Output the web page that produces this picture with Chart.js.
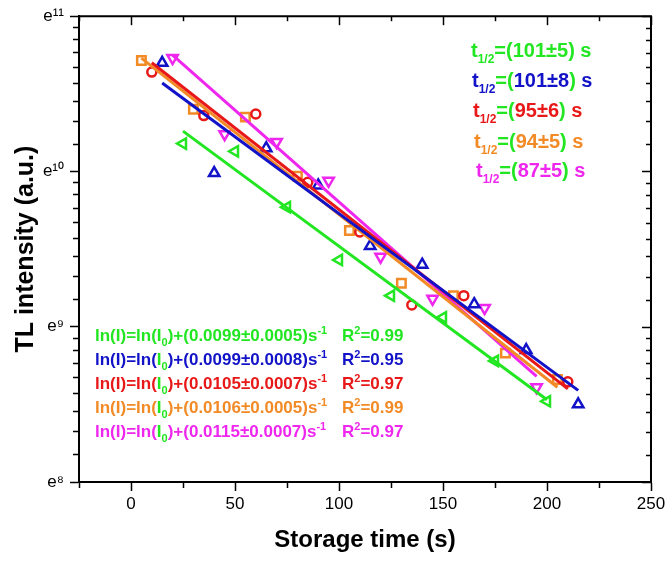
<!DOCTYPE html>
<html>
<head>
<meta charset="utf-8">
<script src="https://cdn.jsdelivr.net/npm/chart.js@4"></script>
<style>
  body { margin: 0; background: #fff; }
</style>
</head>
<body>
<canvas id="myChart" width="669" height="562"></canvas>
<script>
  // data (y given as ln of intensity)
  const greenX = [25, 50, 75, 100, 125, 150, 175, 200];
  const greenLn = [10.18, 10.13, 9.77, 9.43, 9.20, 9.06, 8.78, 8.52];
  const blueX = [15, 40, 65, 90, 115, 140, 165, 190, 215];
  const blueLn = [10.70, 9.99, 10.15, 9.91, 9.52, 9.40, 9.145, 8.85, 8.50];
  const redX = [10, 35, 60, 85, 110, 135, 160, 210];
  const redLn = [10.64, 10.36, 10.37, 9.93, 9.61, 9.14, 9.20, 8.645];
  const orangeX = [5, 30, 55, 80, 105, 130, 155, 180, 205];
  const orangeLn = [10.715, 10.40, 10.35, 9.97, 9.62, 9.28, 9.20, 8.83, 8.66];
  const magentaX = [20, 45, 70, 95, 120, 145, 170, 195];
  const magentaLn = [10.73, 10.24, 10.19, 9.94, 9.45, 9.18, 9.12, 8.61];

  // fitted lines, end points
  const greenFitX = [25, 200], greenFitLn = [10.26, 8.53];
  const blueFitX = [15, 215], blueFitLn = [10.57, 8.59];
  const redFitX = [10, 210], redFitLn = [10.70, 8.60];
  const orangeFitX = [5, 205], orangeFitLn = [10.73, 8.61];
  const magentaFitX = [20, 195], magentaFitLn = [10.75, 8.68];

  const halfLives = ['101±5', '101±8', '95±6', '94±5', '87±5'];
  const rates = ['0.0099±0.0005', '0.0099±0.0008', '0.0105±0.0007', '0.0106±0.0005', '0.0115±0.0007'];
  const rSquared = ['0.99', '0.95', '0.97', '0.99', '0.97'];

  const yPowers = [8, 9, 10, 11];
  const yTickLabels = ['e⁸', 'e⁹', 'e¹⁰', 'e¹¹'];

  const GREEN = '#22e622', BLUE = '#1212c8', RED = '#e81818', ORANGE = '#f28a26', MAGENTA = '#ee26ee';
  const FONT = '"Liberation Sans", Arial, sans-serif';

  function pts(xs, lns) {
    return xs.map((x, i) => ({x: x, y: Math.exp(lns[i])}));
  }

  function scatterSet(label, xs, lns, color, style, rot, r) {
    return {
      label: label, data: pts(xs, lns), type: 'scatter', order: 2,
      borderColor: color, backgroundColor: 'rgba(0,0,0,0)',
      pointStyle: style, rotation: rot, pointRadius: r, pointBorderWidth: 2.5
    };
  }

  function fitSet(label, xs, lns, color) {
    return {
      label: label, data: pts(xs, lns), type: 'line', order: 1,
      borderColor: color, borderWidth: 3, pointRadius: 0, fill: false
    };
  }

  function isMajor(v) {
    const l = Math.log(v);
    return Math.abs(l - Math.round(l)) < 1e-6;
  }

  // top/right frame with inward ticks
  const frameTicks = {
    id: 'frameTicks',
    afterDraw(chart) {
      const ctx = chart.ctx, a = chart.chartArea, x = chart.scales.x, y = chart.scales.y;
      ctx.save();
      ctx.strokeStyle = '#000';
      ctx.lineWidth = 2;
      ctx.beginPath();
      ctx.moveTo(a.left, a.top); ctx.lineTo(a.right, a.top); ctx.lineTo(a.right, a.bottom);
      ctx.stroke();
      ctx.lineWidth = 1.5;
      x.ticks.forEach(t => {
        const px = Math.round(x.getPixelForValue(t.value)) + 0.5;
        const len = t.value % 50 === 0 ? 9 : 5;
        ctx.beginPath(); ctx.moveTo(px, a.top); ctx.lineTo(px, a.top + len); ctx.stroke();
      });
      y.ticks.forEach(t => {
        const py = Math.round(y.getPixelForValue(t.value)) + 0.5;
        const len = isMajor(t.value) ? 9 : 5;
        ctx.beginPath(); ctx.moveTo(a.right, py); ctx.lineTo(a.right - len, py); ctx.stroke();
      });
      ctx.restore();
    }
  };

  function drawRich(ctx, x, y, parts, size) {
    parts.forEach(p => {
      const kind = p[2] || 'n';
      const fs = kind === 'n' ? size : Math.round(size * 0.62);
      ctx.font = 'bold ' + fs + 'px ' + FONT;
      ctx.fillStyle = p[1];
      const dy = kind === 'sub' ? size * 0.28 : kind === 'sup' ? -size * 0.42 : 0;
      ctx.fillText(p[0], x, y + dy);
      x += ctx.measureText(p[0]).width;
    });
  }

  const notes = {
    id: 'notes',
    afterDraw(chart) {
      const ctx = chart.ctx;
      const cols = [GREEN, BLUE, RED, ORANGE, MAGENTA];
      const tY = [57, 87, 117, 148, 177];
      const tX = [471, 472, 473, 474, 476];
      const eY = [341, 365, 389, 413, 437];
      ctx.save();
      ctx.textBaseline = 'alphabetic';
      cols.forEach((c, i) => {
        drawRich(ctx, tX[i], tY[i], [
          ['t', c], ['1/2', c, 'sub'], ['=(', GREEN], [halfLives[i], c], [')', GREEN], [' s', c]
        ], 20);
        drawRich(ctx, 95, eY[i], [
          ['ln(I)=ln(', c], ['I', GREEN], ['0', GREEN, 'sub'], [')+(' + rates[i] + ')s', c], ['-1', c, 'sup']
        ], 17);
        drawRich(ctx, 342, eY[i], [
          ['R', c], ['2', c, 'sup'], ['=' + rSquared[i], c]
        ], 17);
      });
      ctx.restore();
    }
  };

  const ctx = document.getElementById('myChart').getContext('2d');
  const myChart = new Chart(ctx, {
    type: 'scatter',
    data: {
      datasets: [
        fitSet('green fit', greenFitX, greenFitLn, GREEN),
        fitSet('blue fit', blueFitX, blueFitLn, BLUE),
        fitSet('red fit', redFitX, redFitLn, RED),
        fitSet('orange fit', orangeFitX, orangeFitLn, ORANGE),
        fitSet('magenta fit', magentaFitX, magentaFitLn, MAGENTA),
        scatterSet('green', greenX, greenLn, GREEN, 'triangle', 270, 6),
        scatterSet('blue', blueX, blueLn, BLUE, 'triangle', 0, 6),
        scatterSet('red', redX, redLn, RED, 'circle', 0, 4.5),
        scatterSet('orange', orangeX, orangeLn, ORANGE, 'rect', 0, 6),
        scatterSet('magenta', magentaX, magentaLn, MAGENTA, 'triangle', 180, 6)
      ]
    },
    options: {
      responsive: false,
      animation: false,
      layout: { padding: { top: 12, right: 18, left: 0, bottom: 0 } },
      plugins: { legend: { display: false }, tooltip: { enabled: false } },
      scales: {
        x: {
          type: 'linear', position: 'bottom', min: -25, max: 250,
          afterFit: s => { s.height = 80; },
          border: { color: '#000', width: 2 },
          grid: {
            drawOnChartArea: false, tickLength: 9, tickColor: '#000', tickWidth: 1.5,
            tickBorderDash: c => (c.tick && c.tick.value % 50 === 0) ? [] : [5, 100]
          },
          ticks: {
            stepSize: 25, autoSkip: false, maxRotation: 0, padding: 3,
            color: '#000', font: { size: 17, family: FONT },
            callback: v => v % 50 === 0 ? String(v) : ''
          },
          title: {
            display: true, text: 'Storage time (s)', color: '#000',
            font: { size: 24, weight: 'bold', family: FONT }, padding: { bottom: 7, top: 0 }
          }
        },
        y: {
          type: 'logarithmic', position: 'left', min: Math.exp(8), max: Math.exp(11),
          afterFit: s => { s.width = 79; },
          afterBuildTicks: s => {
            const t = [];
            yPowers.forEach((n, i) => {
              t.push({value: Math.exp(n), major: true});
              if (i < yPowers.length - 1) {
                for (let k = 1; k <= 8; k++) t.push({value: Math.exp(n) * (1 + k * (Math.E - 1) / 9)});
              }
            });
            s.ticks = t;
          },
          border: { color: '#000', width: 2 },
          grid: {
            drawOnChartArea: false, tickLength: 9, tickColor: '#000', tickWidth: 1.5,
            tickBorderDash: c => (c.tick && isMajor(c.tick.value)) ? [] : [0, 3, 6, 100]
          },
          ticks: {
            autoSkip: false, padding: 6, color: '#000', font: { size: 17, family: FONT },
            callback: v => {
              const i = yPowers.findIndex(n => Math.abs(Math.log(v) - n) < 1e-6);
              return i >= 0 ? yTickLabels[i] : '';
            }
          },
          title: {
            display: true, text: 'TL intensity (a.u.)', color: '#000',
            font: { size: 25, weight: 'bold', family: FONT }, padding: { top: 11, bottom: 0 }
          }
        }
      }
    },
    plugins: [frameTicks, notes]
  });
</script>
</body>
</html>
